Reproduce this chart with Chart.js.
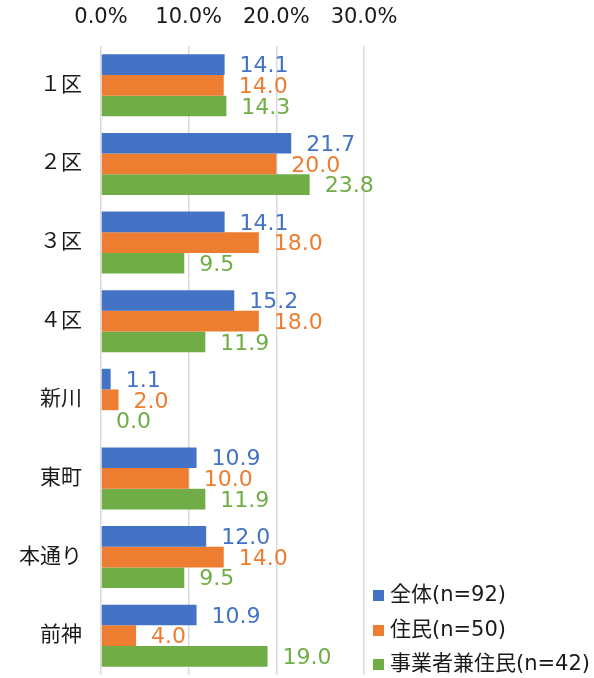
<!DOCTYPE html>
<html>
<head>
<meta charset="utf-8">
<script src="https://cdn.jsdelivr.net/npm/chart.js@4"></script>
<style>
  html, body { margin: 0; padding: 0; background: #fff; }
  #wrap { width: 594px; height: 678px; }
</style>
</head>
<body>
<div id="wrap"><canvas id="chart" width="594" height="678"></canvas></div>
<script>
// Categories and series (percent)
const categories = ['１区', '２区', '３区', '４区', '新川', '東町', '本通り', '前神'];
const seriesNames = ['全体(n=92)', '住民(n=50)', '事業者兼住民(n=42)'];
const allValues = [14.1, 21.7, 14.1, 15.2, 1.1, 10.9, 12.0, 10.9];
const residentValues = [14.0, 20.0, 18.0, 18.0, 2.0, 10.0, 14.0, 4.0];
const businessValues = [14.3, 23.8, 9.5, 11.9, 0.0, 11.9, 9.5, 19.0];
const tickValues = [0, 10, 20, 30];
const colors = ['#4472C4', '#ED7D31', '#70AD47'];

const FONT = '"DejaVu Sans", "Noto Sans CJK JP", sans-serif';

// Draw value labels just past each bar end
const valueLabels = {
    id: 'valueLabels',
    afterDatasetsDraw(chart) {
        const ctx = chart.ctx;
        ctx.save();
        ctx.font = '22px ' + FONT;
        ctx.textAlign = 'left';
        ctx.textBaseline = 'middle';
        chart.data.datasets.forEach((ds, i) => {
            const meta = chart.getDatasetMeta(i);
            meta.data.forEach((bar, j) => {
                ctx.fillStyle = ds.backgroundColor;
                ctx.fillText(ds.data[j].toFixed(1), bar.x + 15, bar.y + 2);
            });
        });
        ctx.restore();
    }
};

// Legend drawn in the lower right corner
const cornerLegend = {
    id: 'cornerLegend',
    afterDraw(chart) {
        const ctx = chart.ctx;
        ctx.save();
        ctx.font = '21px ' + FONT;
        ctx.textAlign = 'left';
        ctx.textBaseline = 'middle';
        const rows = [596, 631, 665];
        chart.data.datasets.forEach((ds, i) => {
            ctx.fillStyle = ds.backgroundColor;
            ctx.fillRect(373, rows[i] - 6, 11, 11);
            ctx.fillStyle = '#1a1a1a';
            ctx.fillText(ds.label, 390, rows[i]);
        });
        ctx.restore();
    }
};

new Chart(document.getElementById('chart'), {
    type: 'bar',
    data: {
        labels: categories,
        datasets: [
            { label: seriesNames[0], data: allValues, backgroundColor: colors[0] },
            { label: seriesNames[1], data: residentValues, backgroundColor: colors[1] },
            { label: seriesNames[2], data: businessValues, backgroundColor: colors[2] }
        ]
    },
    options: {
        indexAxis: 'y',
        responsive: false,
        animation: false,
        layout: { padding: { left: 0, right: 230, top: 0, bottom: 3 } },
        datasets: { bar: { categoryPercentage: 0.79, barPercentage: 1.0 } },
        scales: {
            x: {
                position: 'top',
                min: 0,
                max: 30,
                afterBuildTicks: (scale) => { scale.ticks = tickValues.map(v => ({ value: v })); },
                afterFit: (scale) => { scale.height = 46; },
                grid: { color: '#d9d9d9', lineWidth: 1.5, drawTicks: false },
                border: { display: false },
                ticks: {
                    padding: 16,
                    color: '#1a1a1a',
                    font: { family: FONT, size: 21 },
                    callback: (v) => Number(v).toFixed(1) + '%'
                }
            },
            y: {
                afterFit: (scale) => {
                    scale.width = 101;
                    scale.paddingTop = 0;
                    scale.paddingBottom = 0;
                },
                grid: { display: false, drawTicks: false },
                border: { display: false },
                ticks: {
                    padding: 19,
                    color: '#1a1a1a',
                    font: { family: FONT, size: 21 }
                }
            }
        },
        plugins: {
            legend: { display: false },
            tooltip: { enabled: false }
        }
    },
    plugins: [valueLabels, cornerLegend]
});
</script>
</body>
</html>
